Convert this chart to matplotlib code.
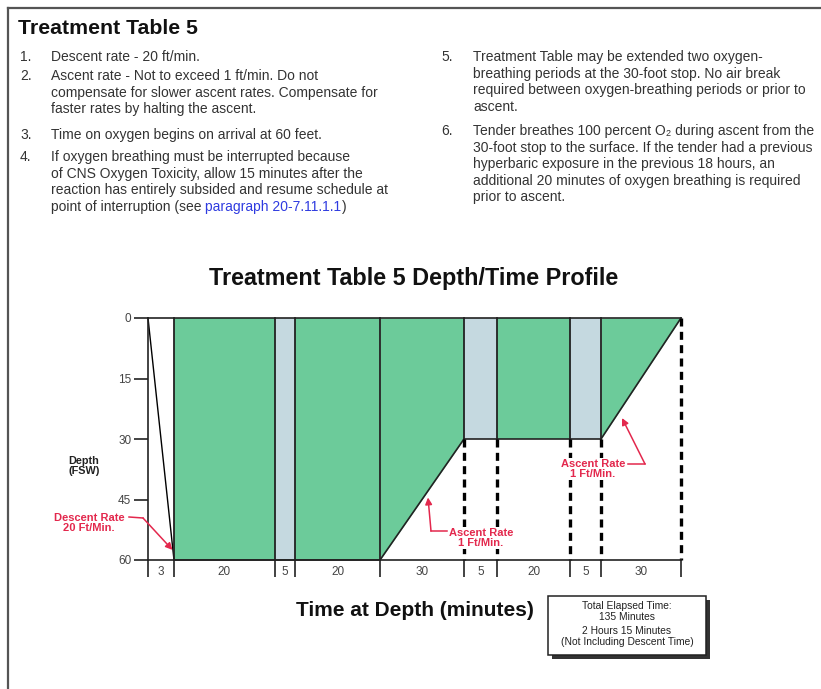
import matplotlib
matplotlib.use("Agg")
import matplotlib.pyplot as plt
from matplotlib.patches import Rectangle
import numpy as np

plt.rcParams['font.family'] = ['Liberation Sans', 'DejaVu Sans']

# --- profile data ---
seg_minutes = [3, 20, 5, 20, 30, 5, 20, 5, 30]
seg_gas = ['descent', 'o2', 'air', 'o2', 'o2', 'air', 'o2', 'air', 'o2']
depth_at = [0, 60, 60, 60, 60, 30, 30, 30, 30, 0]   # depth at each segment boundary
depth_ticks = [0, 15, 30, 45, 60]

# schematic widths of the segments on the drawing (the chart is not to scale)
seg_width = [26, 101, 20, 85, 84, 33, 73, 31, 80]

GREEN = '#6ccb9a'
AIR = '#c5d9e0'
RED = '#e3284d'
INK = '#222222'
GREY_TXT = '#444444'

fig = plt.figure(figsize=(8.21, 6.89), dpi=100)

# page layer in pixel units for the document text
pg = fig.add_axes([0, 0, 1, 1])
pg.set_xlim(0, 821)
pg.set_ylim(689, 0)
pg.axis('off')
pg.set_zorder(3)
pg.patch.set_visible(False)

# chart axes
ax = fig.add_axes([148 / 821, (689 - 560) / 689, 533 / 821, 242 / 689])
ax.set_zorder(2)
ax.patch.set_visible(False)

bounds = np.concatenate([[0], np.cumsum(seg_width)])
ax.set_xlim(bounds[0], bounds[-1])
ax.set_ylim(60, 0)

gas_color = {'o2': GREEN, 'air': AIR}
for i, gas in enumerate(seg_gas):
    if gas == 'descent':
        continue
    ax.fill_between(bounds[i:i + 2], [0, 0], depth_at[i:i + 2],
                    color=gas_color[gas], lw=0)

# descent line and profile outline
ax.plot(bounds[:2], depth_at[:2], color='k', lw=1.0, clip_on=False)
ax.plot(bounds[1:], depth_at[1:], color=INK, lw=1.2, clip_on=False)

# segment boundaries: solid inside the fill, dashed below it
for b, d in zip(bounds[1:], depth_at[1:]):
    if d > 0:
        ax.plot([b, b], [0, d], color=INK, lw=1.3, clip_on=False)
    if d < 60:
        ax.plot([b, b], [d, 60], color='k', lw=2.4, ls=(0, (2.4, 1.6)),
                clip_on=False)

for s in ['left', 'bottom', 'top']:
    ax.spines[s].set_color(INK)
    ax.spines[s].set_linewidth(1.2)
ax.spines['right'].set_visible(False)

ax.set_yticks(depth_ticks)
ax.set_yticklabels([str(t) for t in depth_ticks])
ax.tick_params(axis='y', length=10, width=1.2, color=INK, pad=2,
               labelsize=8.5, labelcolor=GREY_TXT)

ax.set_xticks(bounds)
ax.set_xticklabels([])
ax.tick_params(axis='x', which='major', length=12.5, width=1.2, color=INK)
mids = (bounds[:-1] + bounds[1:]) / 2
ax.set_xticks(mids, minor=True)
ax.set_xticklabels([str(m) for m in seg_minutes], minor=True)
ax.tick_params(axis='x', which='minor', length=0, pad=4.5, labelsize=8.5,
               labelcolor=GREY_TXT)

# --- annotations (text placed on page, arrows point into the chart) ---
def note_arrow(text, tx, ty, line, tip):
    pg.text(tx, ty, text, ha='center', va='center', color=RED, fontsize=8,
            fontweight='bold', linespacing=1.0,
            bbox=dict(facecolor='white', edgecolor='none', pad=0.5))
    pg.plot([line[0][0], line[1][0]], [line[0][1], line[1][1]],
            color=RED, lw=1.1)
    ax.annotate('', xy=tip, xycoords='data', xytext=line[1],
                textcoords=pg.transData, annotation_clip=False,
                arrowprops=dict(arrowstyle='-|>', color=RED, lw=1.1,
                                mutation_scale=10, shrinkA=0, shrinkB=0))

note_arrow('Descent Rate\n20 Ft/Min.', 89, 523,
           [(129, 517), (143, 518)], (bounds[1] - 1.5, 57.5))
note_arrow('Ascent Rate\n1 Ft/Min.', 481, 538,
           [(447, 531), (431, 531)], (bounds[4] + 48, 44.5))
note_arrow('Ascent Rate\n1 Ft/Min.', 593, 469,
           [(628, 464), (645, 464)], (bounds[8] + 21, 24.8))

pg.text(84, 466, 'Depth\n(FSW)', ha='center', va='center', fontsize=7.8,
        fontweight='bold', color=INK, linespacing=1.0)

# titles
pg.text(414, 278, 'Treatment Table 5 Depth/Time Profile', ha='center',
        va='center', fontsize=16.8, fontweight='bold', color='#111111')
pg.text(415, 611, 'Time at Depth (minutes)', ha='center', va='center',
        fontsize=15, fontweight='bold', color='#111111')

# elapsed time box with shadow
pg.add_patch(Rectangle((552, 599.5), 158, 59, facecolor='#333333',
                       edgecolor='none'))
pg.add_patch(Rectangle((548, 596), 158, 59, facecolor='white',
                       edgecolor=INK, lw=1.1))
box_lines = ['Total Elapsed Time:', '135 Minutes', '2 Hours 15 Minutes',
             '(Not Including Descent Time)']
for y, s in zip([606, 617, 631, 642], box_lines):
    pg.text(627, y, s, ha='center', va='center', fontsize=7.4, color=INK)

# --- document header and notes ---
pg.plot([8, 8], [8, 689], color='#555555', lw=1.6)
pg.plot([8, 821], [8, 8], color='#555555', lw=1.6)
pg.text(18, 28, 'Treatment Table 5', ha='left', va='center', fontsize=15.3,
        fontweight='bold', color='#111111')

NOTE_FS = 10
NOTE_C = '#333333'
STEP = 16.6

left_notes = [
    (57, '1.', ['Descent rate - 20 ft/min.']),
    (76, '2.', ['Ascent rate - Not to exceed 1 ft/min. Do not',
                'compensate for slower ascent rates. Compensate for',
                'faster rates by halting the ascent.']),
    (135, '3.', ['Time on oxygen begins on arrival at 60 feet.']),
    (157, '4.', ['If oxygen breathing must be interrupted because',
                 'of CNS Oxygen Toxicity, allow 15 minutes after the',
                 'reaction has entirely subsided and resume schedule at']),
]
right_notes = [
    (57, '5.', ['Treatment Table may be extended two oxygen-',
                'breathing periods at the 30-foot stop. No air break',
                'required between oxygen-breathing periods or prior to',
                'ascent.']),
    (131, '6.', ['Tender breathes 100 percent O\u2082 during ascent from the',
                 '30-foot stop to the surface. If the tender had a previous',
                 'hyperbaric exposure in the previous 18 hours, an',
                 'additional 20 minutes of oxygen breathing is required',
                 'prior to ascent.']),
]

def draw_notes(notes, xn, xt):
    for y0, num, lines in notes:
        pg.text(xn, y0, num, ha='left', va='center', fontsize=NOTE_FS,
                color=NOTE_C)
        for k, s in enumerate(lines):
            pg.text(xt, y0 + k * STEP, s, ha='left', va='center',
                    fontsize=NOTE_FS, color=NOTE_C)

draw_notes(left_notes, 20, 51)
draw_notes(right_notes, 441, 473)

# last line of note 4 with the blue link
t1 = pg.text(51, 157 + 3 * STEP, 'point of interruption (see ', ha='left',
             va='center', fontsize=NOTE_FS, color=NOTE_C)
t2 = pg.annotate('paragraph 20-7.11.1.1', xy=(1, 0), xycoords=t1,
                 ha='left', va='bottom', fontsize=NOTE_FS, color='#2f3be0')
pg.annotate(')', xy=(1, 0), xycoords=t2, ha='left', va='bottom',
            fontsize=NOTE_FS, color=NOTE_C)

fig.savefig('out.png', dpi=100)
